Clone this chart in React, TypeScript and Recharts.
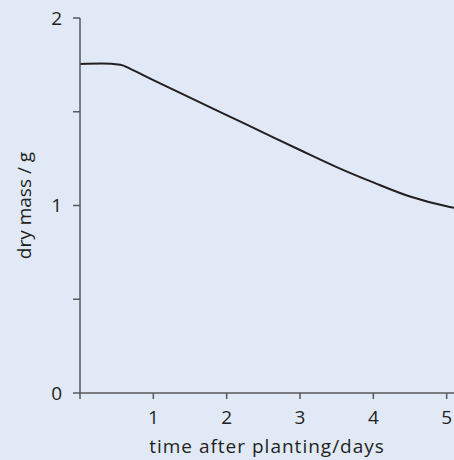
import { LineChart, Line, XAxis, YAxis } from "recharts";

const days = [0, 0.3, 0.55, 0.7, 1, 1.5, 2, 2.5, 3, 3.5, 4, 4.5, 5, 5.1];
const dryMass = [1.755, 1.757, 1.751, 1.726, 1.669, 1.575, 1.482, 1.389, 1.296, 1.205, 1.123, 1.048, 0.996, 0.988];
const xTicks = [0, 1, 2, 3, 4, 5];
const yTicks = [0, 0.5, 1, 1.5, 2];

const data = days.map((d, i) => ({ day: d, mass: dryMass[i] }));

const ink = "#231f20";
const axisGrey = "#58595b";
const font = "'Open Sans', sans-serif";

export default function App() {
  return (
    <div style={{ position: "absolute", left: 0, top: 0, width: 454, height: 460, background: "#e1e9f6" }}>
      <LineChart width={454} height={460} data={data} margin={{ top: 18, right: 0, bottom: 0, left: 0 }}>
        <XAxis
          dataKey="day"
          type="number"
          domain={[0, 5.1]}
          ticks={xTicks}
          tickFormatter={(v) => (v === 0 ? "" : String(v))}
          height={67}
          tickSize={6}
          tickMargin={12}
          stroke={axisGrey}
          strokeWidth={1.5}
          tick={{ fill: ink, fontSize: 19, fontFamily: font }}
          label={{ value: "time after planting/days", position: "insideBottom", offset: 7, fill: ink, fontSize: 19, fontFamily: font, letterSpacing: 1 }}
        />
        <YAxis
          type="number"
          domain={[0, 2]}
          ticks={yTicks}
          tickFormatter={(v) => (Number.isInteger(v) ? String(v) : "")}
          width={80}
          tickSize={7}
          tickMargin={11}
          stroke={axisGrey}
          strokeWidth={1.5}
          tick={{ fill: ink, fontSize: 19, fontFamily: font }}
          label={{ value: "dry mass / g", angle: -90, position: "center", dx: -16, fill: ink, fontSize: 19, fontFamily: font }}
        />
        <Line
          dataKey="mass"
          type="monotone"
          stroke={ink}
          strokeWidth={2}
          dot={false}
          isAnimationActive={false}
        />
      </LineChart>
    </div>
  );
}
